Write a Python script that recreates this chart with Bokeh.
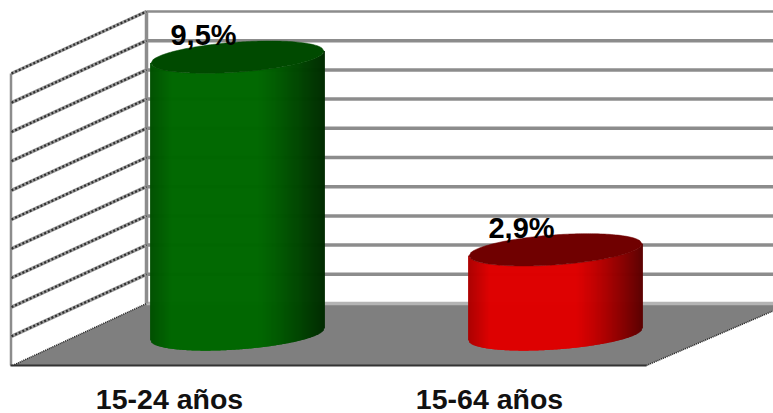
from bokeh.plotting import figure
from bokeh.models import Range1d
from bokeh.core.properties import value
from bokeh.embed import file_html
from bokeh.resources import INLINE
import numpy as np

categories = ["15-24 años", "15-64 años"]
rates = [9.5, 2.9]
rate_labels = ["9,5%", "2,9%"]
grid_ticks = list(range(0, 11))
body_colors = [(0, 104, 0), (222, 0, 0)]
cap_colors = ["#004a00", "#700000"]

W, H = 773, 413
PX_Y = 29.2          # pixels per percentage point
PX_X = 318.0         # pixels per category step
X0_PX, Y0_PX = 237.0, 334.0   # figure pixels of category 0 / value 0


def dx(px):
    return (px - X0_PX) / PX_X


def dy(px):
    return (Y0_PX - px) / PX_Y


p = figure(width=W, height=H, output_backend="svg", toolbar_location=None,
           x_range=Range1d(dx(0), dx(W)), y_range=Range1d(dy(H), dy(0)),
           min_border=0, outline_line_color=None)
p.axis.visible = False
p.grid.visible = False
p.background_fill_color = "white"
p.border_fill_color = "white"

FRONT_L, BACK_L, BACK_R, FRONT_R = 12, 146, 790, 646
FLOOR_FRONT, FLOOR_BACK = 365, 303

# Floor
p.patch([dx(FRONT_L), dx(BACK_L), dx(BACK_R), dx(FRONT_R)],
        [dy(FLOOR_FRONT), dy(FLOOR_BACK), dy(FLOOR_BACK), dy(FLOOR_FRONT)],
        fill_color="#7f7f7f", line_color=None)

# Back wall gridlines
for t in grid_ticks:
    yb = dy(FLOOR_BACK) + t
    p.line([dx(BACK_L), dx(BACK_R)], [yb, yb],
           line_color="#b4b4b4" if t == 0 else "#8c8c8c",
           line_width=2.5 if t == 10 else 3.5)

# Wall verticals
p.line([dx(BACK_L)] * 2, [dy(FLOOR_BACK), dy(FLOOR_BACK) + 10], line_color="#8c8c8c", line_width=3.5)
p.line([dx(FRONT_L - 1.5)] * 2, [dy(FLOOR_FRONT), dy(FLOOR_FRONT) + 10], line_color="#8c8c8c", line_width=2.5)

# Side wall diagonals
for t in grid_ticks[1:]:
    yf = dy(FLOOR_FRONT) + t
    yb = dy(FLOOR_BACK) + t
    p.line([dx(FRONT_L - 1), dx(BACK_L)], [yf, yb], line_color="#9a9a9a", line_width=3.5)
    p.line([dx(FRONT_L - 1), dx(BACK_L)], [yf, yb], line_color="#2e2e2e", line_width=2.2, line_dash="2 2")

# Floor edges
p.line([dx(FRONT_L), dx(BACK_L)], [dy(FLOOR_FRONT), dy(FLOOR_BACK)],
       line_color="#222222", line_width=1.5, line_dash="1 1")
p.line([dx(FRONT_R), dx(BACK_R)], [dy(FLOOR_FRONT), dy(FLOOR_BACK)],
       line_color="#222222", line_width=1.5, line_dash="1 1")
p.line([dx(FRONT_L - 2), dx(FRONT_R)], [dy(FLOOR_FRONT)] * 2, line_color="#333333", line_width=2)

# Cylinders
A_PX, B_PX, S_PX = 86.5, 15.0, 6.0


def shade(t):
    f = np.ones_like(t)
    f = np.where(t < 0.12, 0.78 + 0.22 * t / 0.12, f)
    f = np.where(t > 0.62, 1 - 0.58 * ((t - 0.62) / 0.38) ** 1.2, f)
    return f


for i, (rate, rgb, cap) in enumerate(zip(rates, body_colors, cap_colors)):
    cx_px = X0_PX + PX_X * i
    px = np.arange(-A_PX, A_PX + 0.5, 1.0)
    t = (px + A_PX) / (2 * A_PX)
    u = px / A_PX
    arc = B_PX * np.sqrt(np.clip(1 - u ** 2, 0, 1))
    lower = (-arc + S_PX * u) / PX_Y
    f = shade(t)
    colors = ["#%02x%02x%02x" % tuple(int(c * v) for c in rgb) for v in f]
    xs = dx(cx_px + px)
    p.segment(xs, lower, xs, rate + lower, line_color=colors, line_width=1.8, line_cap="butt")
    # top cap
    uu = np.linspace(-1, 1, 80)
    arc2 = B_PX * np.sqrt(1 - uu ** 2)
    xcap = dx(cx_px + A_PX * np.concatenate([uu, uu[::-1]]))
    ycap = rate + np.concatenate([-arc2 + S_PX * uu, (arc2 + S_PX * uu)[::-1]]) / PX_Y
    p.patch(xcap, ycap, fill_color=cap, line_color=cap, line_width=0.5)

# Value labels
for i, (rate, lab) in enumerate(zip(rates, rate_labels)):
    p.text([i], [rate], text=[lab], text_font=value("Liberation Sans"), text_font_style="bold",
           text_font_size="29px", text_color="black", text_align="center", text_baseline="middle",
           x_offset=-34, y_offset=-22)

# Category labels
for i, cat in enumerate(categories):
    p.text([i], [dy(H)], text=[cat], text_font=value("Liberation Sans"), text_font_style="bold",
           text_font_size="28.5px", text_color="#111111", text_align="center", text_baseline="middle",
           x_offset=-68 + (2 * i), y_offset=-15)

open("out.html", "w").write(file_html(p, INLINE))
